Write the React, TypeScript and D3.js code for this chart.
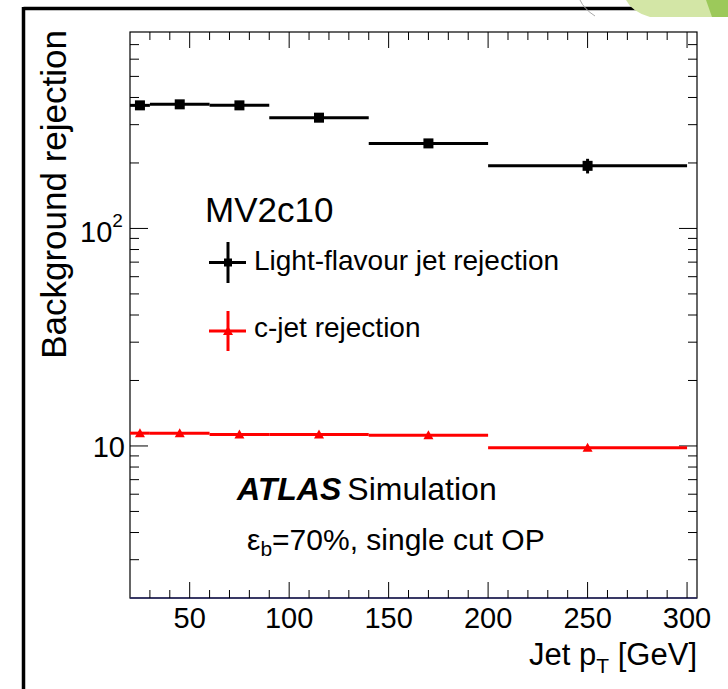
import React from "react";
import * as d3 from "d3";

const binLow = [20, 30, 60, 90, 140, 200];
const binHigh = [30, 60, 90, 140, 200, 300];
const binCenter = [25, 45, 75, 115, 170, 250];
const lightRej = [368, 372, 368, 323, 246, 194];
const lightErr = [4, 4, 4, 5, 7, 15];
const cRej = [11.45, 11.45, 11.3, 11.3, 11.2, 9.82];
const cErr = [0.1, 0.1, 0.1, 0.1, 0.1, 0.1];
const xMajorTicks = [50, 100, 150, 200, 250, 300];
const yMajorTicks = [10, 100];

const W = 728;
const H = 689;
const L = 130, R = 697, T = 32, B = 598;
const FONT = "'Liberation Sans', Arial, Helvetica, sans-serif";

export default function App() {
  const x = d3.scaleLinear().domain([20, 305]).range([L, R]);
  const y = d3.scaleLog().domain([2, 800]).range([B, T]);

  const xMinor = d3.range(30, 305, 10).filter((v) => v % 50 !== 0);
  const yMinor: number[] = [];
  [1, 10, 100].forEach((dec) => {
    for (let k = 2; k <= 9; k++) {
      const v = k * dec;
      if (v > 2 && v < 800) yMinor.push(v);
    }
  });

  const tri = (cx: number, cy: number) =>
    `M${cx - 5},${cy + 4} L${cx + 5},${cy + 4} L${cx},${cy - 5} Z`;

  return (
    <svg
      width={W}
      height={H}
      style={{ position: "absolute", left: 0, top: 0, background: "#fff" }}
      fontFamily={FONT}
    >
      <rect x={0} y={0} width={W} height={H} fill="#fff" />
      {/* slide frame */}
      <line x1={23.5} y1={8.5} x2={W} y2={8.5} stroke="#000" strokeWidth={3.5} />
      <line x1={23.5} y1={7} x2={23.5} y2={H} stroke="#000" strokeWidth={3.5} />
      <path d="M580,0 Q584,9 595,16" fill="none" stroke="#aaa" strokeWidth={1} />
      <path d="M626,0 L728,0 L728,17 L650,17 Q632,12 626,0 Z" fill="#d3e6a6" />
      <path d="M706,0 L728,0 L728,17 L712,17 Z" fill="#9cc95a" />

      {/* plot frame */}
      <rect x={L} y={T} width={R - L} height={B - T} fill="none" stroke="#000" strokeWidth={1.2} />
      <line x1={L} y1={B} x2={R} y2={B} stroke="#2b2b66" strokeWidth={1.6} />

      {/* x ticks */}
      {xMajorTicks.map((v) => (
        <g key={"xM" + v}>
          <line x1={x(v)} x2={x(v)} y1={B} y2={B - 16} stroke="#000" strokeWidth={1} />
          <line x1={x(v)} x2={x(v)} y1={T} y2={T + 16} stroke="#000" strokeWidth={1} />
          <text x={x(v)} y={628} fontSize={29} textAnchor="middle" fill="#000">
            {v}
          </text>
        </g>
      ))}
      {xMinor.map((v) => (
        <g key={"xm" + v}>
          <line x1={x(v)} x2={x(v)} y1={B} y2={B - 8} stroke="#000" strokeWidth={1} />
          <line x1={x(v)} x2={x(v)} y1={T} y2={T + 8} stroke="#000" strokeWidth={1} />
        </g>
      ))}

      {/* y ticks */}
      {yMajorTicks.map((v) => (
        <g key={"yM" + v}>
          <line x1={L} x2={L + 18} y1={y(v)} y2={y(v)} stroke="#000" strokeWidth={1} />
          <line x1={R} x2={R - 18} y1={y(v)} y2={y(v)} stroke="#000" strokeWidth={1} />
        </g>
      ))}
      {yMinor.map((v) => (
        <g key={"ym" + v}>
          <line x1={L} x2={L + 9} y1={y(v)} y2={y(v)} stroke="#000" strokeWidth={1} />
          <line x1={R} x2={R - 9} y1={y(v)} y2={y(v)} stroke="#000" strokeWidth={1} />
        </g>
      ))}
      <text x={125} y={y(10) + 11} fontSize={29} textAnchor="end" fill="#000">
        10
      </text>
      <text x={80} y={y(100) + 14} fontSize={29} fill="#000">
        10
        <tspan fontSize={19} dy={-15}>2</tspan>
      </text>

      {/* axis titles */}
      <text
        transform={`translate(66,30) rotate(-90)`}
        fontSize={35}
        textAnchor="end"
        fill="#000"
      >
        Background rejection
      </text>
      <text x={697} y={665} fontSize={31} textAnchor="end" fill="#000">
        Jet p
        <tspan fontSize={21} dy={8}>T</tspan>
        <tspan dy={-8}> [GeV]</tspan>
      </text>

      {/* light-flavour series */}
      {binCenter.map((c, i) => (
        <g key={"l" + i}>
          <line x1={x(binLow[i])} x2={x(binHigh[i])} y1={y(lightRej[i])} y2={y(lightRej[i])} stroke="#000" strokeWidth={3} />
          <line x1={x(c)} x2={x(c)} y1={y(lightRej[i] + lightErr[i])} y2={y(lightRej[i] - lightErr[i])} stroke="#000" strokeWidth={3} />
          <rect x={x(c) - 5} y={y(lightRej[i]) - 5} width={10} height={10} fill="#000" />
        </g>
      ))}

      {/* c-jet series */}
      {binCenter.map((c, i) => (
        <g key={"c" + i}>
          <line x1={x(binLow[i])} x2={x(binHigh[i])} y1={y(cRej[i])} y2={y(cRej[i])} stroke="#ff0000" strokeWidth={3} />
          <line x1={x(c)} x2={x(c)} y1={y(cRej[i] + cErr[i])} y2={y(cRej[i] - cErr[i])} stroke="#ff0000" strokeWidth={3} />
          <path d={tri(x(c), y(cRej[i]))} fill="#ff0000" />
        </g>
      ))}

      {/* labels */}
      <text x={205} y={222} fontSize={35} fill="#000">MV2c10</text>

      <line x1={209} x2={246} y1={262.5} y2={262.5} stroke="#000" strokeWidth={3} />
      <line x1={228} x2={228} y1={242} y2={283} stroke="#000" strokeWidth={3} />
      <rect x={224} y={258.5} width={8} height={8} fill="#000" />
      <text x={254} y={270} fontSize={28} fill="#000">Light-flavour jet rejection</text>

      <line x1={209} x2={246} y1={331} y2={331} stroke="#ff0000" strokeWidth={3} />
      <line x1={228} x2={228} y1={311} y2={351} stroke="#ff0000" strokeWidth={3} />
      <path d={tri(228, 331)} fill="#ff0000" />
      <text x={254} y={337} fontSize={28} fill="#000">c-jet rejection</text>

      <text x={237} y={500} fontSize={32} fill="#000">
        <tspan fontWeight="bold" fontStyle="italic">ATLAS</tspan>
        <tspan dx={6}>Simulation</tspan>
      </text>
      <text x={247} y={550} fontSize={30} fill="#000">
        ε<tspan fontSize={21} dy={6}>b</tspan>
        <tspan dy={-6}>=70%, single cut OP</tspan>
      </text>
    </svg>
  );
}
